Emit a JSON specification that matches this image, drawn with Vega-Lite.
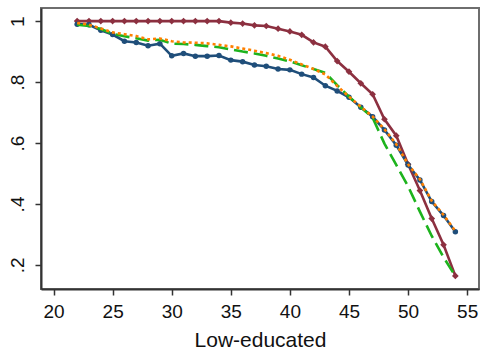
{
  "$schema": "https://vega.github.io/schema/vega-lite/v6.json",
  "autosize": {"type": "none"},
  "width": 438,
  "height": 281,
  "padding": {"left": 41, "top": 8, "right": 1, "bottom": 63},
  "background": "white",
  "config": {
    "view": {"stroke": "#6e6e6e", "strokeWidth": 2},
    "font": "Liberation Sans",
    "axis": {
      "grid": false,
      "domainColor": "#333333",
      "domainWidth": 2,
      "tickColor": "#333333",
      "tickWidth": 1.5,
      "tickSize": 6,
      "labelColor": "#111111",
      "labelFont": "Liberation Sans",
      "labelFontSize": 19,
      "titleFont": "Liberation Sans",
      "titleFontSize": 21,
      "titleFontWeight": "normal",
      "titleColor": "#111111"
    }
  },
  "data": {
    "values": [
      {"s": "m", "x": 22, "y": 1}, {"s": "m", "x": 23, "y": 1}, {"s": "m", "x": 24, "y": 1}, {"s": "m", "x": 25, "y": 1},
      {"s": "m", "x": 26, "y": 1}, {"s": "m", "x": 27, "y": 1}, {"s": "m", "x": 28, "y": 1}, {"s": "m", "x": 29, "y": 1},
      {"s": "m", "x": 30, "y": 1}, {"s": "m", "x": 31, "y": 1}, {"s": "m", "x": 32, "y": 1}, {"s": "m", "x": 33, "y": 1},
      {"s": "m", "x": 34, "y": 1}, {"s": "m", "x": 35, "y": 0.995}, {"s": "m", "x": 36, "y": 0.992}, {"s": "m", "x": 37, "y": 0.986},
      {"s": "m", "x": 38, "y": 0.984}, {"s": "m", "x": 39, "y": 0.975}, {"s": "m", "x": 40, "y": 0.966}, {"s": "m", "x": 41, "y": 0.955},
      {"s": "m", "x": 42, "y": 0.93}, {"s": "m", "x": 43, "y": 0.916}, {"s": "m", "x": 44, "y": 0.869}, {"s": "m", "x": 45, "y": 0.834},
      {"s": "m", "x": 46, "y": 0.796}, {"s": "m", "x": 47, "y": 0.76}, {"s": "m", "x": 48, "y": 0.678}, {"s": "m", "x": 49, "y": 0.624},
      {"s": "m", "x": 50, "y": 0.53}, {"s": "m", "x": 51, "y": 0.444}, {"s": "m", "x": 52, "y": 0.352}, {"s": "m", "x": 53, "y": 0.266},
      {"s": "m", "x": 54, "y": 0.164},
      {"s": "b", "x": 22, "y": 0.99}, {"s": "b", "x": 23, "y": 0.988}, {"s": "b", "x": 24, "y": 0.97}, {"s": "b", "x": 25, "y": 0.956},
      {"s": "b", "x": 26, "y": 0.934}, {"s": "b", "x": 27, "y": 0.93}, {"s": "b", "x": 28, "y": 0.919}, {"s": "b", "x": 29, "y": 0.926},
      {"s": "b", "x": 30, "y": 0.886}, {"s": "b", "x": 31, "y": 0.894}, {"s": "b", "x": 32, "y": 0.885}, {"s": "b", "x": 33, "y": 0.885},
      {"s": "b", "x": 34, "y": 0.887}, {"s": "b", "x": 35, "y": 0.872}, {"s": "b", "x": 36, "y": 0.867}, {"s": "b", "x": 37, "y": 0.856},
      {"s": "b", "x": 38, "y": 0.852}, {"s": "b", "x": 39, "y": 0.843}, {"s": "b", "x": 40, "y": 0.84}, {"s": "b", "x": 41, "y": 0.826},
      {"s": "b", "x": 42, "y": 0.815}, {"s": "b", "x": 43, "y": 0.788}, {"s": "b", "x": 44, "y": 0.771}, {"s": "b", "x": 45, "y": 0.75},
      {"s": "b", "x": 46, "y": 0.717}, {"s": "b", "x": 47, "y": 0.686}, {"s": "b", "x": 48, "y": 0.643}, {"s": "b", "x": 49, "y": 0.593},
      {"s": "b", "x": 50, "y": 0.528}, {"s": "b", "x": 51, "y": 0.479}, {"s": "b", "x": 52, "y": 0.408}, {"s": "b", "x": 53, "y": 0.362},
      {"s": "b", "x": 54, "y": 0.309},
      {"s": "g", "x": 22, "y": 0.988}, {"s": "g", "x": 23, "y": 0.984}, {"s": "g", "x": 24, "y": 0.974}, {"s": "g", "x": 25, "y": 0.958},
      {"s": "g", "x": 26, "y": 0.95}, {"s": "g", "x": 27, "y": 0.944}, {"s": "g", "x": 28, "y": 0.936}, {"s": "g", "x": 29, "y": 0.939},
      {"s": "g", "x": 30, "y": 0.926}, {"s": "g", "x": 31, "y": 0.925}, {"s": "g", "x": 32, "y": 0.922}, {"s": "g", "x": 33, "y": 0.918},
      {"s": "g", "x": 34, "y": 0.914}, {"s": "g", "x": 35, "y": 0.907}, {"s": "g", "x": 36, "y": 0.9}, {"s": "g", "x": 37, "y": 0.894},
      {"s": "g", "x": 38, "y": 0.886}, {"s": "g", "x": 39, "y": 0.877}, {"s": "g", "x": 40, "y": 0.868}, {"s": "g", "x": 41, "y": 0.855},
      {"s": "g", "x": 42, "y": 0.843}, {"s": "g", "x": 43, "y": 0.83}, {"s": "g", "x": 44, "y": 0.79}, {"s": "g", "x": 45, "y": 0.752},
      {"s": "g", "x": 46, "y": 0.717}, {"s": "g", "x": 47, "y": 0.683}, {"s": "g", "x": 48, "y": 0.598}, {"s": "g", "x": 49, "y": 0.528},
      {"s": "g", "x": 50, "y": 0.458}, {"s": "g", "x": 51, "y": 0.375}, {"s": "g", "x": 52, "y": 0.295}, {"s": "g", "x": 53, "y": 0.225},
      {"s": "g", "x": 54, "y": 0.163},
      {"s": "o", "x": 22, "y": 0.994}, {"s": "o", "x": 23, "y": 0.988}, {"s": "o", "x": 24, "y": 0.976}, {"s": "o", "x": 25, "y": 0.963},
      {"s": "o", "x": 26, "y": 0.957}, {"s": "o", "x": 27, "y": 0.951}, {"s": "o", "x": 28, "y": 0.94}, {"s": "o", "x": 29, "y": 0.943},
      {"s": "o", "x": 30, "y": 0.934}, {"s": "o", "x": 31, "y": 0.93}, {"s": "o", "x": 32, "y": 0.929}, {"s": "o", "x": 33, "y": 0.927},
      {"s": "o", "x": 34, "y": 0.922}, {"s": "o", "x": 35, "y": 0.917}, {"s": "o", "x": 36, "y": 0.91}, {"s": "o", "x": 37, "y": 0.903},
      {"s": "o", "x": 38, "y": 0.895}, {"s": "o", "x": 39, "y": 0.886}, {"s": "o", "x": 40, "y": 0.873}, {"s": "o", "x": 41, "y": 0.858},
      {"s": "o", "x": 42, "y": 0.843}, {"s": "o", "x": 43, "y": 0.825}, {"s": "o", "x": 44, "y": 0.787}, {"s": "o", "x": 45, "y": 0.752},
      {"s": "o", "x": 46, "y": 0.719}, {"s": "o", "x": 47, "y": 0.687}, {"s": "o", "x": 48, "y": 0.645}, {"s": "o", "x": 49, "y": 0.596},
      {"s": "o", "x": 50, "y": 0.53}, {"s": "o", "x": 51, "y": 0.481}, {"s": "o", "x": 52, "y": 0.41}, {"s": "o", "x": 53, "y": 0.364},
      {"s": "o", "x": 54, "y": 0.311}
    ]
  },
  "encoding": {
    "x": {
      "field": "x", "type": "quantitative",
      "scale": {"domain": [18.94, 56], "nice": false, "zero": false},
      "axis": {"values": [20, 25, 30, 35, 40, 45, 50, 55], "title": "Low-educated", "labelPadding": 7, "titlePadding": 8}
    },
    "y": {
      "field": "y", "type": "quantitative",
      "scale": {"domain": [0.121, 1.043], "nice": false, "zero": false},
      "axis": {
        "values": [0.2, 0.4, 0.6, 0.8, 1],
        "title": null,
        "labelAngle": -90,
        "labelAlign": "center",
        "labelBaseline": "bottom",
        "labelPadding": 8,
        "labelExpr": "datum.value == 1 ? '1' : replace(format(datum.value, '.1f'), '0.', '.')"
      }
    }
  },
  "layer": [
    {
      "transform": [{"filter": "datum.s == 'm'"}],
      "mark": {"type": "line", "color": "#8c3040", "strokeWidth": 2.6},
      "encoding": {}
    },
    {
      "transform": [{"filter": "datum.s == 'm'"}],
      "mark": {"type": "point", "shape": "diamond", "filled": true, "color": "#8c3040", "size": 45, "opacity": 1},
      "encoding": {}
    },
    {
      "transform": [{"filter": "datum.s == 'b'"}],
      "mark": {"type": "line", "color": "#1f4e7a", "strokeWidth": 2.6},
      "encoding": {}
    },
    {
      "transform": [{"filter": "datum.s == 'b'"}],
      "mark": {"type": "point", "shape": "circle", "filled": true, "color": "#1f4e7a", "size": 30, "opacity": 1},
      "encoding": {}
    },
    {
      "transform": [{"filter": "datum.s == 'g'"}],
      "mark": {"type": "line", "color": "#1db31d", "strokeWidth": 2.6, "strokeDash": [14, 6]},
      "encoding": {}
    },
    {
      "transform": [{"filter": "datum.s == 'o'"}],
      "mark": {"type": "line", "color": "#ff8000", "strokeWidth": 2.6, "strokeDash": [3, 3]},
      "encoding": {}
    }
  ]
}
